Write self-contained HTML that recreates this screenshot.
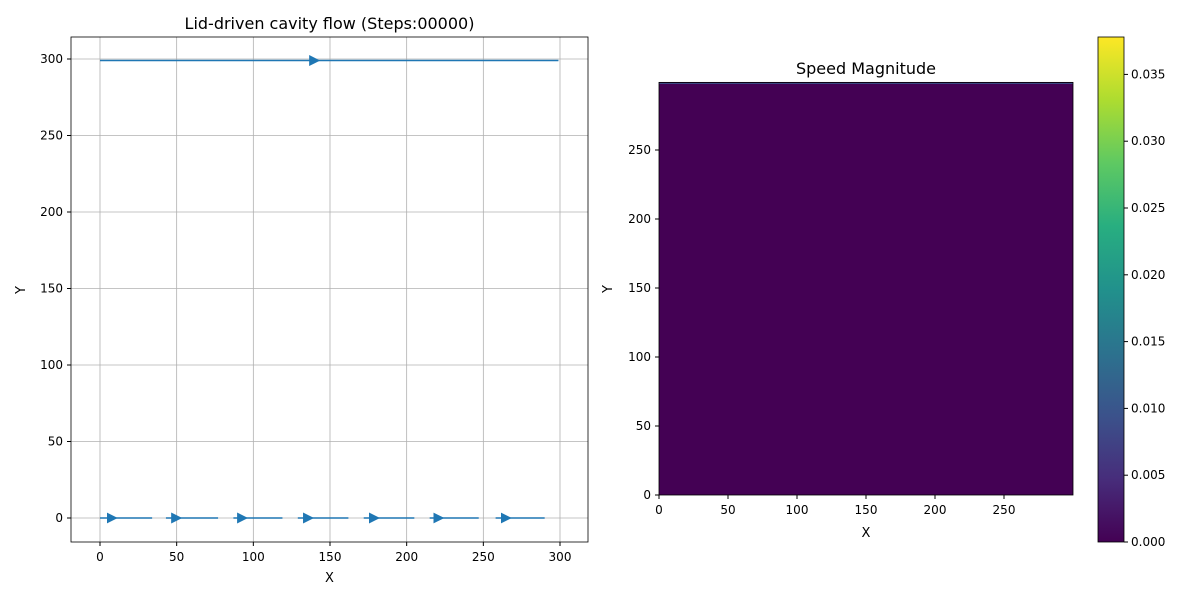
<!DOCTYPE html>
<html><head><meta charset="utf-8"><style>
body{margin:0;background:#fff;}
svg text{font-family:"DejaVu Sans","Liberation Sans",sans-serif;fill:#000;}
</style></head><body>
<svg width="1200" height="600" xmlns="http://www.w3.org/2000/svg">
<defs>
<linearGradient id="vir" x1="0" y1="1" x2="0" y2="0">
<stop offset="0" stop-color="#440154"/><stop offset="0.125" stop-color="#472d7b"/><stop offset="0.25" stop-color="#3b528b"/><stop offset="0.375" stop-color="#2c728e"/><stop offset="0.5" stop-color="#21918c"/><stop offset="0.625" stop-color="#28ae80"/><stop offset="0.75" stop-color="#5ec962"/><stop offset="0.875" stop-color="#addc30"/><stop offset="1" stop-color="#fde725"/>
</linearGradient>
<marker id="arr" viewBox="0 0 10 10" refX="5" refY="5" markerWidth="11" markerHeight="11" markerUnits="userSpaceOnUse" orient="auto"><path d="M0,0 L10,5 L0,10 z" fill="#1f77b4"/></marker>
</defs>
<g id="left"></g>
<g id="right"></g>
<g id="cbar"></g>
</svg>
<script>
const NS="http://www.w3.org/2000/svg";
const xTicksL=[0,50,100,150,200,250,300];
const yTicksL=[0,50,100,150,200,250,300];
const lidY=299, lidStart=0, lidEnd=299, lidArrow=140;
const segStarts=[0,43,87,129,172,215,258];
const segEnds=[34,77,119,162,205,247,290];
const segArrows=[8,50,93,136,179,221,265];
const ticksR=[0,50,100,150,200,250];
const cbTicks=[0,0.005,0.01,0.015,0.02,0.025,0.03,0.035];
const cbMax=0.0378;
function mk(p,t,a,txt){const e=document.createElementNS(NS,t);for(const k in a)e.setAttribute(k,a[k]);if(txt!==undefined)e.textContent=txt;p.appendChild(e);return e;}
const L=document.getElementById('left');
const lx=v=>100+v*460/300, ly=v=>518-v*459/300;
xTicksL.forEach(v=>{const g=mk(L,'line',{x1:lx(v),x2:lx(v),y1:37,y2:542,stroke:'#b0b0b0','stroke-width':0.8});

mk(L,'line',{x1:lx(v),x2:lx(v),y1:542,y2:546,stroke:'#000'});
const t=mk(L,'text',{x:lx(v),y:561,'font-size':12,'text-anchor':'middle'},v);
});
yTicksL.forEach(v=>{const g=mk(L,'line',{x1:71,x2:588,y1:ly(v),y2:ly(v),stroke:'#b0b0b0','stroke-width':0.8});

mk(L,'line',{x1:67,x2:71,y1:ly(v),y2:ly(v),stroke:'#000'});
const t=mk(L,'text',{x:63,y:ly(v)+4,'font-size':12,'text-anchor':'end'},v);
});
const lid=mk(L,'path',{d:`M${lx(lidStart)},${ly(lidY)} L${lx(lidArrow)},${ly(lidY)} L${lx(lidEnd)},${ly(lidY)}`,stroke:'#1f77b4','stroke-width':1.5,fill:'none','marker-mid':'url(#arr)'});

segStarts.forEach((s,i)=>{const p=mk(L,'path',{d:`M${lx(s)},${ly(0)} L${lx(segArrows[i])},${ly(0)} L${lx(segEnds[i])},${ly(0)}`,stroke:'#1f77b4','stroke-width':1.5,fill:'none','marker-mid':'url(#arr)'});
});
mk(L,'rect',{x:71,y:37,width:517,height:505,fill:'none',stroke:'#000','stroke-width':0.8});
let t=mk(L,'text',{x:329.5,y:29,'font-size':16,'text-anchor':'middle'},'Lid-driven cavity flow (Steps:00000)');
t=mk(L,'text',{x:329.5,y:582,'font-size':13,'text-anchor':'middle'},'X');
t=mk(L,'text',{x:25,y:290,'font-size':13,'text-anchor':'middle',transform:'rotate(-90 25 290)'},'Y');
const R=document.getElementById('right');
const rx=v=>659+v*1.38, ry=v=>495-v*1.38;
const hm=mk(R,'rect',{x:659,y:ry(299),width:414,height:495-ry(299),fill:'#440154'});
mk(R,'line',{x1:659,x2:1073,y1:ry(299)+1,y2:ry(299)+1,stroke:'#3b528b','stroke-width':1});
mk(R,'rect',{x:659,y:ry(299),width:414,height:495-ry(299),fill:'none',stroke:'#000','stroke-width':0.8});
ticksR.forEach(v=>{mk(R,'line',{x1:rx(v),x2:rx(v),y1:495,y2:499,stroke:'#000'});
let a=mk(R,'text',{x:rx(v),y:514,'font-size':12,'text-anchor':'middle'},v);
mk(R,'line',{x1:655,x2:659,y1:ry(v),y2:ry(v),stroke:'#000'});
a=mk(R,'text',{x:651,y:ry(v)+4,'font-size':12,'text-anchor':'end'},v);});
t=mk(R,'text',{x:866,y:74,'font-size':16,'text-anchor':'middle'},'Speed Magnitude');
t=mk(R,'text',{x:866,y:537,'font-size':13,'text-anchor':'middle'},'X');
t=mk(R,'text',{x:612,y:289,'font-size':13,'text-anchor':'middle',transform:'rotate(-90 612 289)'},'Y');
const C=document.getElementById('cbar');
const cy=v=>542-v/cbMax*505;
mk(C,'rect',{x:1098,y:37,width:26,height:505,fill:'url(#vir)',stroke:'#000','stroke-width':0.8});
cbTicks.forEach(v=>{mk(C,'line',{x1:1124,x2:1128,y1:cy(v),y2:cy(v),stroke:'#000'});
const a=mk(C,'text',{x:1131,y:cy(v)+4,'font-size':12},v.toFixed(3));});
</script>
</body></html>
